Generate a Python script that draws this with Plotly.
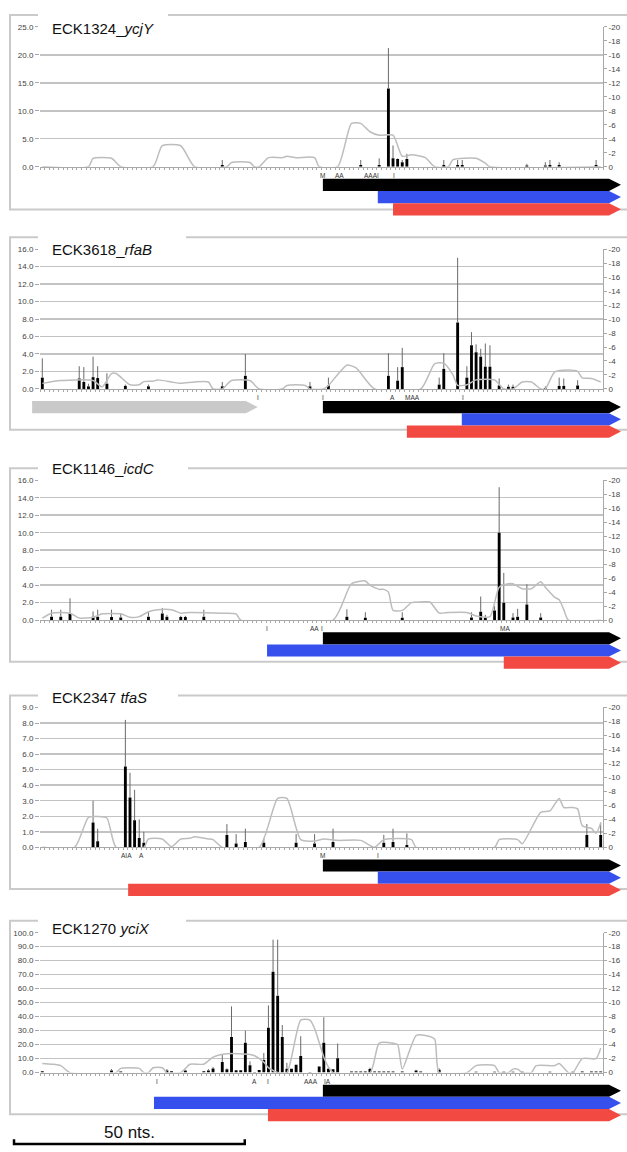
import plotly.graph_objects as go

# ---------------- layout constants (pixels of the 627x1152 page) ----------------
W, H = 627, 1152
PLOT_L, PLOT_R = 40, 603
N_POS = 122
PXNT = (PLOT_R - PLOT_L) / N_POS
PANEL_H = 141
ZERO_PX = [164, 388, 621, 850, 1077]
FRAME_TOP = [11, 235, 468, 697, 924]
FRAME_BOT = [207, 429, 663, 892, 1119]
TITLE_Y = [24.5, 247, 468, 699, 932]
TITLE_BOX_END = [168, 186, 188, 178, 186]
TRACK_UNIT = 12.3
TRACK_OFF = 6

# ---------------- data ----------------
titles = ["ECK1324_<i>ycjY</i>", "ECK3618_<i>rfaB</i>", "ECK1146_<i>icdC</i>",
          "ECK2347 <i>tfaS</i>", "ECK1270 <i>yciX</i>"]
y_max = [25, 16, 16, 9, 100]
y_dtick = [5, 2, 2, 1, 10]

# panel 1 : ycjY
p1_pos = [40, 70, 74, 76, 77, 78, 79, 80, 88, 91, 92, 106, 110, 111, 113, 121]
p1_val = [0.3, 0.3, 0.3, 14.0, 1.5, 1.4, 0.8, 1.4, 0.3, 0.3, 0.3, 0.2, 0.2, 0.3, 0.3, 0.3]
p1_err = [1.2, 1.2, 1.5, 21.2, 3.8, 1.5, 1.2, 2.3, 1.2, 1.2, 1.2, 0.5, 0.8, 1.2, 0.8, 1.2]
p1_line_pos = [1, 11, 12, 16, 18, 25, 27, 31, 34, 41, 42, 46, 47, 48, 50, 53, 54, 56, 60, 61,
               65, 68, 70, 72, 74, 77, 79, 81, 84, 86, 89, 90, 95, 97, 98, 122]
p1_line_val = [0, 0, -1.2, -1.2, 0, 0, -3.0, -3.0, 0, 0, -0.6, -0.6, 0, 0, -1.3, -1.3, -1.5, -1.3, -1.3, 0,
               0, -6.2, -6.2, -5.0, -4.5, -4.5, -1.5, -1.7, -1.3, 0, 0, -1.0, -1.2, -0.5, 0, 0]

# panel 2 : rfaB
p2_pos = [1, 9, 10, 11, 12, 13, 15, 19, 24, 40, 45, 59, 63, 76, 78, 79, 87, 88, 91, 93, 94, 95,
          96, 97, 98, 100, 102, 103, 110, 113, 114, 117]
p2_val = [1.3, 1.2, 0.8, 0.3, 1.35, 1.25, 0.6, 0.35, 0.3, 0.3, 1.5, 0.3, 0.4, 1.5, 0.95, 2.5, 0.5,
          2.3, 7.6, 1.3, 5.0, 4.2, 3.7, 2.55, 2.55, 0.4, 0.25, 0.25, 0.1, 0.35, 0.35, 0.4]
p2_err = [3.5, 2.6, 2.5, 0.6, 3.7, 2.6, 1.8, 0.5, 0.5, 0.8, 4.0, 0.8, 1.3, 4.1, 2.5, 4.7, 1.3,
          4.1, 15.0, 2.6, 6.5, 5.1, 4.6, 5.2, 5.0, 1.2, 0.5, 0.5, 0.3, 1.3, 1.2, 1.0]
p2_line_pos = [1, 5, 12, 14, 16, 17, 20, 22, 23, 25, 26, 29, 31, 34, 37, 38, 40, 42, 46, 48, 53, 54,
               58, 59, 62, 63, 67, 69, 73, 83, 86, 88, 90, 91, 93, 95, 99, 101, 103, 105, 107, 109,
               110, 112, 115, 117, 118, 120, 122]
p2_line_val = [-0.8, -1.2, -1.2, -0.3, -2.2, -2.2, -0.6, -0.6, -1.05, -1.1, -1.3, -1.0, -0.8, -1.0,
               -1.0, 0, 0, -1.2, -1.2, 0, 0, -0.5, -0.5, 0, 0, -0.5, -3.4, -3.0, 0, 0, -3.6, -3.7,
               -2.0, -0.5, -0.6, -1.3, -1.3, 0, 0, -1.0, -1.0, 0, 0, -2.4, -2.7, -2.5, -1.6, -1.5, -1.0]

# panel 3 : icdC
p3_pos = [3, 5, 7, 12, 13, 16, 18, 24, 27, 28, 31, 32, 36, 67, 71, 79, 94, 96, 97, 99, 100, 101,
          103, 104, 106, 109]
p3_val = [0.4, 0.4, 0.8, 0.4, 0.4, 0.35, 0.3, 0.4, 0.75, 0.4, 0.35, 0.35, 0.4, 0.4, 0.27, 0.27, 0.3,
          0.95, 0.3, 1.1, 10.0, 2.0, 0.3, 0.4, 1.8, 0.3]
p3_err = [1.2, 1.2, 2.5, 1.0, 1.2, 1.2, 0.8, 1.0, 1.4, 0.6, 0.5, 0.5, 1.2, 1.25, 0.9, 0.9, 0.9,
          2.7, 0.6, 1.6, 15.2, 5.4, 0.8, 1.3, 4.1, 0.8]
p3_line_pos = [1, 3, 7, 9, 12, 14, 18, 20, 22, 24, 26, 29, 31, 33, 40, 43, 44, 64, 68, 71, 72, 74,
               75, 76, 77, 79, 81, 83, 85, 87, 89, 93, 95, 98, 100, 102, 103, 105, 107, 109, 110,
               112, 113, 114, 115, 122]
p3_line_val = [-0.3, -1.0, -1.0, -0.3, -0.4, -0.9, -0.9, -0.4, -0.5, -1.2, -1.5, -1.5, -1.0, -1.1,
               -1.0, -0.9, 0, 0, -5.2, -5.6, -5.0, -4.4, -4.4, -4.0, -1.4, -1.4, -2.5, -2.6, -2.6,
               -1.0, -1.1, -1.1, -0.6, -0.5, -4.7, -5.2, -5.2, -4.5, -4.5, -5.5, -4.7, -3.3, -2.9,
               -1.5, 0, 0]

# panel 4 : tfaS
p4_pos = [12, 13, 19, 20, 21, 22, 23, 41, 43, 45, 49, 56, 60, 64, 75, 77, 80, 119, 122]
p4_val = [1.6, 0.4, 5.2, 3.2, 1.75, 0.6, 0.3, 0.8, 0.25, 0.35, 0.3, 0.3, 0.25, 0.35, 0.3, 0.35,
          0.15, 0.8, 0.8]
p4_err = [3.0, 1.2, 8.2, 4.8, 3.7, 1.8, 1.0, 1.5, 0.85, 1.2, 0.6, 0.85, 0.85, 1.2, 0.8, 1.2, 0.9,
          1.5, 1.6]
p4_line_pos = [1, 8, 11, 13, 15, 17, 23, 24, 27, 29, 31, 33, 34, 37, 38, 40, 48, 52, 54, 57, 60, 62,
               65, 70, 73, 75, 81, 82, 99, 100, 104, 105, 109, 111, 113, 114, 116, 117, 118, 120,
               121, 122]
p4_line_val = [0, 0, -4.3, -4.4, -4.2, 0, 0, -1.2, -1.2, -0.1, -1.2, -1.3, -1.5, -1.2, -1.1, 0, 0,
               -7.0, -7.0, -1.1, -0.9, -1.2, -1.0, -1.0, 0, -1.1, -1.1, 0, 0, -1.1, -1.1, -0.5,
               -5.0, -5.2, -7.0, -5.7, -5.7, -5.5, -3.1, -2.7, -2.0, -3.5]

# panel 5 : yciX
p5_pos = [1, 16, 18, 28, 29, 32, 36, 37, 38, 40, 41, 42, 43, 44, 45, 46, 47, 48, 49, 50, 51, 52,
          53, 54, 55, 56, 57, 59, 61, 62, 63, 64, 65, 68, 69, 70, 71, 72, 73, 74, 75, 76, 77, 79,
          82, 83, 87, 95, 99, 101, 103, 105, 111, 116, 118, 120, 121, 122]
p5_val = [1.0, 1.5, 0.8, 1.5, 1.0, 1.5, 1.0, 1.5, 3.0, 7.6, 2.4, 25.5, 1.7, 1.7, 21.3, 5.2, 0.5,
          1.9, 9.0, 32.0, 72.1, 55.0, 25.5, 2.8, 2.8, 5.6, 11.8, 0.5, 4.3, 21.3, 2.8, 2.4, 10.2,
          0.8, 0.8, 0.8, 0.8, 2.5, 0.8, 0.8, 0.8, 0.8, 0.8, 0.8, 1.5, 0.8, 2.0, 0.6, 0.6, 0.6,
          0.6, 0.6, 0.6, 0.6, 0.8, 0.8, 0.8, 0.8]
p5_err = [1.0, 2.5, 0.8, 2.5, 1.0, 2.0, 1.0, 2.5, 4.0, 13.0, 3.0, 47.3, 1.7, 1.7, 30.0, 8.0, 0.5,
          1.9, 14.0, 48.0, 95.0, 95.0, 34.0, 7.0, 2.8, 5.6, 26.0, 0.5, 4.3, 39.5, 4.0, 2.4, 20.8,
          0.8, 0.8, 0.8, 0.8, 3.5, 0.8, 0.8, 0.8, 0.8, 0.8, 0.8, 2.0, 0.8, 3.0, 0.6, 0.6, 0.6,
          0.6, 0.6, 0.6, 0.6, 0.8, 0.8, 0.8, 0.8]
p5_line_pos = [1, 3, 5, 7, 17, 18, 22, 23, 24, 25, 27, 28, 31, 33, 36, 38, 41, 46, 47, 49, 50, 52,
               54, 57, 59, 60, 61, 62, 63, 64, 72, 74, 77, 78, 79, 82, 84, 86, 87, 93, 95, 99,
               100, 102, 103, 104, 105, 107, 108, 112, 113, 115, 116, 118, 121, 122]
p5_line_val = [-1.3, -1.2, -1.0, 0, 0, -0.6, -0.6, 0, 0, -0.7, -0.7, 0, 0, -1.2, -1.2, -2.2, -2.7,
               -2.6, -2.4, -1.5, -0.7, 0, 0, -7.5, -7.5, -6.3, -4.3, -2.2, -0.8, 0, 0, -4.2, -4.2,
               -4.0, -0.5, -5.3, -5.3, -4.8, 0, 0, -1.0, -1.0, 0, 0, -0.5, -0.5, 0, 0, -1.0, -1.0,
               -1.3, 0, 0, -2.0, -2.0, -3.5]

bars_pos = [p1_pos, p2_pos, p3_pos, p4_pos, p5_pos]
bars_val = [p1_val, p2_val, p3_val, p4_val, p5_val]
bars_err = [p1_err, p2_err, p3_err, p4_err, p5_err]
lines_pos = [p1_line_pos, p2_line_pos, p3_line_pos, p4_line_pos, p5_line_pos]
lines_val = [p1_line_val, p2_line_val, p3_line_val, p4_line_val, p5_line_val]

right_tickvals = [0, -2, -4, -6, -8, -10, -12, -14, -16, -18, -20]
right_ticktext = ["0", "-2", "-4", "-6", "-8", "-10", "-12", "-14", "-16", "-18", "-20"]

# gene arrows: (row, start nt, end nt, colour key)
ARROW_END = 126.4
arrows = [
    [(1, 61.8, ARROW_END, "black"), (2, 73.7, ARROW_END, "blue"), (3, 77.0, ARROW_END, "red")],
    [(1, -1.2, 47.7, "gray"), (1, 61.8, ARROW_END, "black"), (2, 91.9, ARROW_END, "blue"),
     (3, 80.0, ARROW_END, "red")],
    [(1, 61.8, ARROW_END, "black"), (2, 49.7, ARROW_END, "blue"), (3, 101.0, ARROW_END, "red")],
    [(1, 61.8, ARROW_END, "black"), (2, 73.7, ARROW_END, "blue"), (3, 19.6, ARROW_END, "red")],
    [(1, 61.8, ARROW_END, "black"), (2, 25.2, ARROW_END, "blue"), (3, 49.9, ARROW_END, "red")],
]
arrow_colors = {"black": "#000000", "blue": "#3650EE", "red": "#F24A43", "gray": "#C9C9C9"}

# site letters under the axis
letters = [
    [("M", 61.8), ("AA", 65.5), ("AAAI", 72.4), ("I", 77.2)],
    [("I", 47.7), ("I", 61.8), ("A", 76.8), ("MAA", 81.2), ("I", 92.1)],
    [("I", 49.7), ("AA", 60.0), ("I", 61.7), ("MA", 101.3)],
    [("AIA", 19.2), ("A", 22.5), ("M", 61.8), ("I", 73.7)],
    [("I", 25.9), ("A", 46.9), ("I", 49.9), ("AAA", 59.2), ("IA", 62.8)],
]

scale_nts = 50
scale_start = -5.13

# ---------------- helpers ----------------
def py(px):
    return 1 - px / H

FONT = "Liberation Sans, Arial, Helvetica, sans-serif"
GRID = "#c3c3c3"
AXC = "#a8a8a8"

fig = go.Figure()
layout = dict(
    width=W, height=H, autosize=False,
    margin=dict(l=0, r=0, t=0, b=0),
    paper_bgcolor="white", plot_bgcolor="rgba(0,0,0,0)",
    showlegend=False, bargap=0.3,
    font=dict(family=FONT, color="#444"),
)

track_xrange = [0.5 - PLOT_L / PXNT, 0.5 + (W - PLOT_L) / PXNT]
layout["xaxis6"] = dict(domain=[0, 1], range=track_xrange, visible=False, anchor="y11",
                        fixedrange=True)

shapes = []
annotations = []

for k in range(5):
    z = ZERO_PX[k]
    xa = "x" if k == 0 else f"x{k+1}"
    ya = "y" if k == 0 else f"y{k+1}"
    yl = f"y{k+6}"
    yt = f"y{k+11}"
    xkey = "xaxis" if k == 0 else f"xaxis{k+1}"
    ykey = "yaxis" if k == 0 else f"yaxis{k+1}"

    layout[xkey] = dict(
        domain=[PLOT_L / W, PLOT_R / W], range=[0.5, N_POS + 0.5], anchor=ya,
        showgrid=False, zeroline=False, showline=True, linecolor=AXC, linewidth=1,
        ticks="outside", tick0=0.5, dtick=1, ticklen=2, tickwidth=1, tickcolor=AXC,
        showticklabels=False, fixedrange=True,
    )
    layout[ykey] = dict(
        domain=[py(z), py(z - PANEL_H)], range=[0, y_max[k]], anchor=xa, side="left",
        dtick=y_dtick[k], tick0=0, tickformat=".1f", showgrid=True, gridcolor=GRID,
        gridwidth=1.5, zeroline=False, showline=False, ticks="outside", ticklen=4,
        tickcolor=AXC, tickfont=dict(size=8, color="#444", family=FONT), fixedrange=True,
    )
    layout[f"yaxis{k+6}"] = dict(
        overlaying=ya, anchor=xa, side="right", range=[0, -20], tickvals=right_tickvals,
        ticktext=right_ticktext, showgrid=False, zeroline=False, showline=True,
        linecolor=AXC, linewidth=1, ticks="outside", ticklen=3, tickcolor=AXC,
        tickfont=dict(size=8, color="#444", family=FONT), fixedrange=True,
        ticklabeloverflow="allow",
    )
    t_top = z + TRACK_OFF
    t_bot = H if k == 4 else z + TRACK_OFF + 4.0 * TRACK_UNIT
    layout[f"yaxis{k+11}"] = dict(
        domain=[py(t_bot), py(t_top)], range=[(t_bot - t_top) / TRACK_UNIT, 0],
        anchor="x6", visible=False, fixedrange=True,
    )

    # bars with one-sided error bars
    vals = bars_val[k]
    plus = [max(e - v, 0) for e, v in zip(bars_err[k], vals)]
    fig.add_trace(go.Bar(
        x=bars_pos[k], y=vals, xaxis=xa, yaxis=ya, width=0.62,
        marker=dict(color="#000000", line=dict(width=0)),
        error_y=dict(type="data", symmetric=False, array=plus, arrayminus=[0] * len(vals),
                     color="#6a6a6a", thickness=1, width=0),
        hoverinfo="skip",
    ))
    # grey profile line on the right axis
    fig.add_trace(go.Scatter(
        x=lines_pos[k], y=lines_val[k], xaxis=xa, yaxis=yl, mode="lines",
        line=dict(color="#bdbdbd", width=1.5, shape="spline", smoothing=0.6),
        hoverinfo="skip",
    ))
    # gene arrows
    for row, x0, x1, ck in arrows[k]:
        tip = 2.6
        xt = x1 - tip
        hh = 0.5
        fig.add_trace(go.Scatter(
            x=[x0, xt, x1, xt, x0, x0], y=[row - hh, row - hh, row, row + hh, row + hh, row - hh],
            xaxis="x6", yaxis=yt, mode="lines", fill="toself", fillcolor=arrow_colors[ck],
            line=dict(width=0, color=arrow_colors[ck]), hoverinfo="skip",
        ))
    for txt, xp in letters[k]:
        annotations.append(dict(
            x=xp, y=0.22, xref="x6", yref=yt, text=txt, showarrow=False,
            font=dict(size=6.5, color="#333", family=FONT), xanchor="center", yanchor="middle",
        ))

    # frame
    shapes.append(dict(type="rect", xref="paper", yref="paper", x0=10 / W, x1=640 / W,
                       y0=py(FRAME_BOT[k]), y1=py(FRAME_TOP[k]),
                       line=dict(color="#cacaca", width=2), fillcolor="rgba(0,0,0,0)",
                       layer="below"))
    # white box behind the title
    shapes.append(dict(type="rect", xref="paper", yref="paper", x0=38 / W,
                       x1=TITLE_BOX_END[k] / W, y0=py(z - PANEL_H + 5),
                       y1=py(FRAME_TOP[k] - 4), line=dict(width=0), fillcolor="white",
                       layer="above"))
    annotations.append(dict(
        x=50 / W, y=py(TITLE_Y[k]), xref="paper", yref="paper", text=titles[k],
        showarrow=False, xanchor="left", yanchor="middle",
        font=dict(size=15, color="#111", family=FONT),
    ))

# scale bar (50 nts) on the last track axis
sb_y = (1149 - (ZERO_PX[4] + TRACK_OFF)) / TRACK_UNIT
fig.add_trace(go.Scatter(
    x=[scale_start, scale_start, scale_start + scale_nts, scale_start + scale_nts],
    y=[sb_y - 0.4, sb_y, sb_y, sb_y - 0.4], xaxis="x6", yaxis="y15", mode="lines",
    line=dict(color="#000", width=2.5), hoverinfo="skip",
))
annotations.append(dict(
    x=scale_start + scale_nts / 2, y=sb_y - 0.95, xref="x6", yref="y15", text="50 nts.",
    showarrow=False, xanchor="center", yanchor="middle",
    font=dict(size=17, color="#111", family=FONT),
))

layout["shapes"] = shapes
layout["annotations"] = annotations
fig.update_layout(**layout)
fig.write_html(
    "out.html",
    config={"displayModeBar": False, "staticPlot": True},
    post_script="document.documentElement.style.margin='0';document.body.style.margin='0';"
                "document.body.style.padding='0';document.body.style.overflow='hidden';"
                "document.documentElement.style.overflow='hidden';",
)
